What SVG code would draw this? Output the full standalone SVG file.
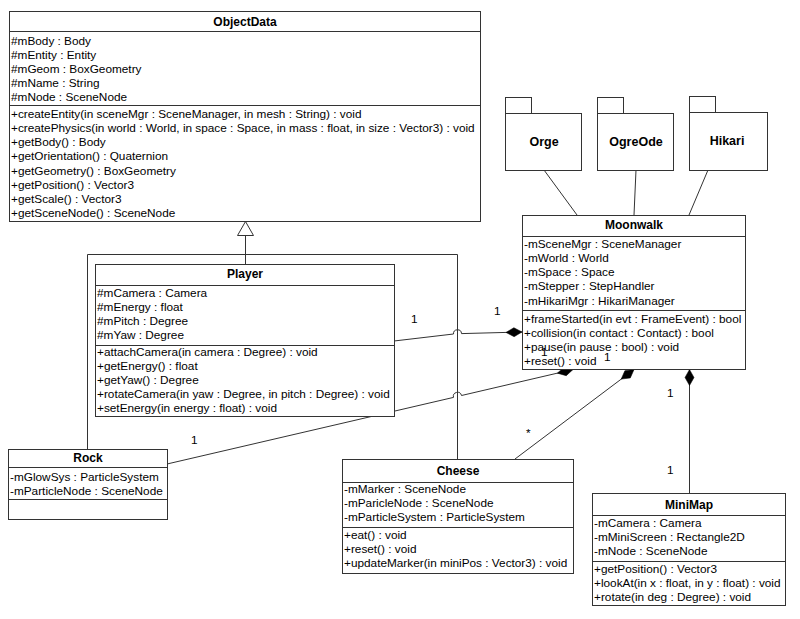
<svg xmlns="http://www.w3.org/2000/svg" width="800" height="619" viewBox="0 0 800 619">
<style>
.bg{fill:#fff}
.box{fill:#fff;stroke:#333;stroke-width:1}
.sep{stroke:#333;stroke-width:1}
.ln{fill:none;stroke:#333;stroke-width:1}
text{font-family:"Liberation Sans",Arial,sans-serif;font-size:11.8px;fill:#000}
.ti{font-weight:bold;font-size:12px;text-anchor:middle}
.pk{font-weight:bold;font-size:12.5px;text-anchor:middle}
.lbl{font-size:11.8px}
</style>
<defs>
<marker id="dia" markerUnits="userSpaceOnUse" markerWidth="18" markerHeight="12" refX="0" refY="5" orient="auto" viewBox="0 0 18 10">
<path d="M0,5 L8,0.5 L16,5 L8,9.5 Z" fill="#000" stroke="#000" stroke-width="0.5"/>
</marker>
</defs>
<rect class="bg" x="0" y="0" width="800" height="619"/>

<g id="connectors">
<!-- generalization -->
<path class="ln" d="M245.5,235 L245.5,264"/>
<path class="ln" d="M87.5,449 L87.5,254.5 L457.5,254.5 L457.5,459"/>
<path d="M245.5,221.5 L237.5,235.5 L253.5,235.5 Z" fill="#fff" stroke="#333"/>
<!-- Player - Moonwalk -->
<path class="ln" marker-start="url(#dia)" d="M522,332 L461.5,333.6 A4,4 0 0 0 453.5,334 L394,341"/>
<!-- Rock - Moonwalk -->
<path class="ln" marker-start="url(#dia)" d="M573,369.5 L461.5,395.5 A4,4 0 0 0 453.5,397.4 L167,464"/>
<!-- Cheese - Moonwalk -->
<path class="ln" marker-start="url(#dia)" d="M634,369.5 L515,459"/>
<!-- MiniMap - Moonwalk -->
<path class="ln" marker-start="url(#dia)" d="M689.5,369.5 L689.5,493"/>
<!-- packages -->
<path class="ln" d="M544,170 L577,215"/>
<path class="ln" d="M636,170 L634,215"/>
<path class="ln" d="M708,170 L689,215"/>
<!-- multiplicities -->
<text class="lbl" x="411" y="323">1</text>
<text class="lbl" x="494" y="315">1</text>
<text class="lbl" x="191" y="444">1</text>
<text class="lbl" x="526" y="437">*</text>
<text class="lbl" x="667" y="397">1</text>
<text class="lbl" x="667" y="474">1</text>
</g>

<g id="ObjectData">
<rect class="box" x="9.5" y="11.5" width="471" height="210"/>
<line class="sep" x1="9.5" y1="31.5" x2="480.5" y2="31.5"/>
<line class="sep" x1="9.5" y1="105.5" x2="480.5" y2="105.5"/>
<text class="ti" x="245" y="26">ObjectData</text>
<text x="11" y="45">#mBody : Body</text>
<text x="11" y="59">#mEntity : Entity</text>
<text x="11" y="73">#mGeom : BoxGeometry</text>
<text x="11" y="87">#mName : String</text>
<text x="11" y="101">#mNode : SceneNode</text>
<text x="11" y="118">+createEntity(in sceneMgr : SceneManager, in mesh : String) : void</text>
<text x="11" y="132">+createPhysics(in world : World, in space : Space, in mass : float, in size : Vector3) : void</text>
<text x="11" y="146">+getBody() : Body</text>
<text x="11" y="160">+getOrientation() : Quaternion</text>
<text x="11" y="175">+getGeometry() : BoxGeometry</text>
<text x="11" y="189">+getPosition() : Vector3</text>
<text x="11" y="203">+getScale() : Vector3</text>
<text x="11" y="217">+getSceneNode() : SceneNode</text>
</g>

<g id="Player">
<rect class="box" x="95.5" y="264.5" width="299" height="152"/>
<line class="sep" x1="95.5" y1="285.5" x2="394.5" y2="285.5"/>
<line class="sep" x1="95.5" y1="345.5" x2="394.5" y2="345.5"/>
<text class="ti" x="245" y="278">Player</text>
<text x="97" y="297">#mCamera : Camera</text>
<text x="97" y="311">#mEnergy : float</text>
<text x="97" y="325">#mPitch : Degree</text>
<text x="97" y="339">#mYaw : Degree</text>
<text x="97" y="356">+attachCamera(in camera : Degree) : void</text>
<text x="97" y="370">+getEnergy() : float</text>
<text x="97" y="384">+getYaw() : Degree</text>
<text x="97" y="398">+rotateCamera(in yaw : Degree, in pitch : Degree) : void</text>
<text x="97" y="412">+setEnergy(in energy : float) : void</text>
</g>

<g id="Rock">
<rect class="box" x="8.5" y="449.5" width="159" height="70"/>
<line class="sep" x1="8.5" y1="467.5" x2="167.5" y2="467.5"/>
<line class="sep" x1="8.5" y1="499.5" x2="167.5" y2="499.5"/>
<text class="ti" x="88" y="462">Rock</text>
<text x="10" y="481">-mGlowSys : ParticleSystem</text>
<text x="10" y="495">-mParticleNode : SceneNode</text>
</g>

<g id="Cheese">
<rect class="box" x="342.5" y="459.5" width="231" height="114"/>
<line class="sep" x1="342.5" y1="482.5" x2="573.5" y2="482.5"/>
<line class="sep" x1="342.5" y1="527.5" x2="573.5" y2="527.5"/>
<text class="ti" x="458" y="475">Cheese</text>
<text x="344" y="493">-mMarker : SceneNode</text>
<text x="344" y="507">-mParicleNode : SceneNode</text>
<text x="344" y="521">-mParticleSystem : ParticleSystem</text>
<text x="344" y="539">+eat() : void</text>
<text x="344" y="553">+reset() : void</text>
<text x="344" y="567">+updateMarker(in miniPos : Vector3) : void</text>
</g>

<g id="MiniMap">
<rect class="box" x="592.5" y="493.5" width="193" height="112"/>
<line class="sep" x1="592.5" y1="515.5" x2="785.5" y2="515.5"/>
<line class="sep" x1="592.5" y1="561.5" x2="785.5" y2="561.5"/>
<text class="ti" x="689" y="509">MiniMap</text>
<text x="594" y="527">-mCamera : Camera</text>
<text x="594" y="541">-mMiniScreen : Rectangle2D</text>
<text x="594" y="555">-mNode : SceneNode</text>
<text x="594" y="573">+getPosition() : Vector3</text>
<text x="594" y="587">+lookAt(in x : float, in y : float) : void</text>
<text x="594" y="601">+rotate(in deg : Degree) : void</text>
</g>

<g id="Moonwalk">
<rect class="box" x="522.5" y="215.5" width="223" height="154"/>
<line class="sep" x1="522.5" y1="236.5" x2="745.5" y2="236.5"/>
<line class="sep" x1="522.5" y1="310.5" x2="745.5" y2="310.5"/>
<text class="ti" x="634" y="229">Moonwalk</text>
<text x="524" y="248">-mSceneMgr : SceneManager</text>
<text x="524" y="262">-mWorld : World</text>
<text x="524" y="276">-mSpace : Space</text>
<text x="524" y="290">-mStepper : StepHandler</text>
<text x="524" y="305">-mHikariMgr : HikariManager</text>
<text x="524" y="323">+frameStarted(in evt : FrameEvent) : bool</text>
<text x="524" y="337">+collision(in contact : Contact) : bool</text>
<text x="524" y="351">+pause(in pause : bool) : void</text>
<text x="524" y="365">+reset() : void</text>
</g>
<!-- multiplicity labels that lie over the Moonwalk box, as in the reference -->
<g id="moonwalk-mult">
<text class="lbl" x="541" y="356">1</text>
<text class="lbl" x="604" y="361">1</text>
</g>

<g id="Orge">
<rect class="box" x="505.5" y="97.5" width="26" height="16"/>
<rect class="box" x="505.5" y="113.5" width="76" height="57"/>
<text class="pk" x="544" y="146">Orge</text>
</g>
<g id="OgreOde">
<rect class="box" x="597.5" y="97.5" width="26" height="16"/>
<rect class="box" x="597.5" y="113.5" width="76" height="57"/>
<text class="pk" x="636" y="146">OgreOde</text>
</g>
<g id="Hikari">
<rect class="box" x="689.5" y="96.5" width="26" height="16"/>
<rect class="box" x="689.5" y="112.5" width="78" height="58"/>
<text class="pk" x="727" y="145">Hikari</text>
</g>
</svg>
